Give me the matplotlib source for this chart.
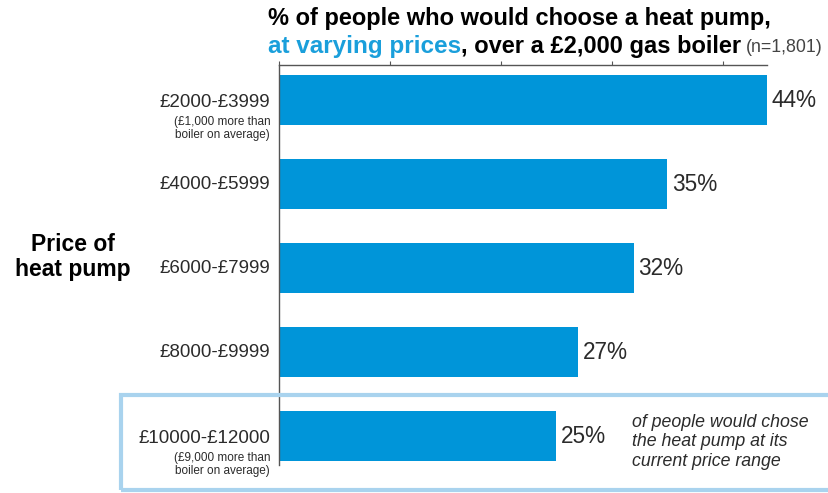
import matplotlib.pyplot as plt
from matplotlib.patches import Rectangle

plt.rcParams['font.family'] = ['Liberation Sans', 'DejaVu Sans']

price_bands = ['£2000-£3999', '£4000-£5999', '£6000-£7999', '£8000-£9999', '£10000-£12000']
band_notes = ['(£1,000 more than\nboiler on average)', '', '', '', '(£9,000 more than\nboiler on average)']
share_pct = [44, 35, 32, 27, 25]

bar_blue = '#0095d9'
title_blue = '#1a9fdb'
box_blue = '#a9d3ee'
text_grey = '#2b2b2b'

fig = plt.figure(figsize=(8.29, 4.93), dpi=100)
ax = fig.add_axes([279 / 829, 1 - 465 / 493, (767 - 279) / 829, (465 - 65) / 493])

y = range(len(price_bands))
ax.barh(y, share_pct, height=0.6, color=bar_blue)
ax.set_xlim(0, 44)
ax.set_ylim(4.345, -0.417)

ax.xaxis.tick_top()
ax.set_xticks([0, 10, 20, 30, 40])
ax.set_xticklabels([])
ax.tick_params(axis='x', length=3, color='#555555', width=0.8)
ax.set_yticks([])
for side in ['right', 'bottom']:
    ax.spines[side].set_visible(False)
for side in ['top', 'left']:
    ax.spines[side].set_color('#555555')
    ax.spines[side].set_linewidth(1.0)

for i, v in enumerate(share_pct):
    ax.text(v + 0.4, i, f'{v}%', va='center', ha='left', fontsize=16.3, color=text_grey)

# category labels left of the axis
for i, (band, note) in enumerate(zip(price_bands, band_notes)):
    if note:
        ax.text(-0.8, i + 0.03, band, ha='right', va='center', fontsize=13.5, color=text_grey)
        ax.text(-0.8, i + 0.185, note, ha='right', va='top', fontsize=8.5,
                color=text_grey, linespacing=1.2)
    else:
        ax.text(-0.8, i, band, ha='right', va='center', fontsize=13.5, color=text_grey)

# highlight box round the current price range
fig.patches.append(Rectangle((121 / 829, 1 - 490 / 493), (830 - 121) / 829, (490 - 395) / 493,
                             transform=fig.transFigure, fill=False,
                             edgecolor=box_blue, linewidth=3, zorder=0))

fig.text(632 / 829, 1 - 442 / 493,
         'of people would chose\nthe heat pump at its\ncurrent price range',
         ha='left', va='center', fontsize=12.8, style='italic', color=text_grey, linespacing=1.2)

fig.text(73 / 829, 1 - 257 / 493, 'Price of\nheat pump', ha='center', va='center',
         fontsize=16.5, fontweight='bold', color='black', linespacing=1.15)

# two-line title, second line in two colours
fig.text(268 / 829, 1 - 19 / 493, '% of people who would choose a heat pump,',
         ha='left', va='center', fontsize=17, fontweight='bold', color='black')
t1 = fig.text(268 / 829, 1 - 46 / 493, 'at varying prices', ha='left', va='center',
              fontsize=17.5, fontweight='bold', color=title_blue)
fig.canvas.draw()
bb = t1.get_window_extent()
t2 = fig.text(bb.x1 / fig.bbox.width, 1 - 46 / 493, ', over a £2,000 gas boiler', ha='left',
              va='center', fontsize=17, fontweight='bold', color='black')
fig.canvas.draw()
bb2 = t2.get_window_extent()
fig.text(bb2.x1 / fig.bbox.width + 0.006, 1 - 47 / 493, '(n=1,801)', ha='left', va='center',
         fontsize=12.8, color='#444444')

fig.savefig('out.png', dpi=100)
